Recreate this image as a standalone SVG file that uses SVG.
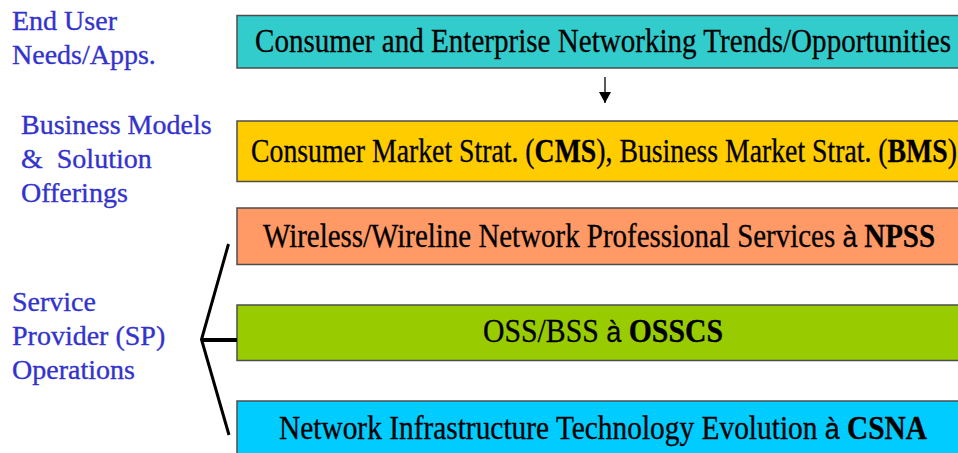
<svg xmlns="http://www.w3.org/2000/svg" width="958" height="453" viewBox="0 0 958 453">
<style>
.lbl{font-family:"Liberation Serif","Times New Roman",serif;font-size:28px;fill:#3333CC;stroke:#3333CC;stroke-width:0.35}
.box{stroke:#4d4d4d;stroke-width:1.5}
.bt{font-family:"Liberation Serif","Times New Roman",serif;font-size:33px;fill:#000;stroke:#000;stroke-width:0.3}
.b{font-weight:bold}
.ar{font-family:"Liberation Sans",Arial,sans-serif;font-size:30px}
.br{stroke:#000;stroke-width:3;fill:none;stroke-linecap:butt}
</style>
<defs>
<marker id="ah" markerWidth="12" markerHeight="12" refX="11" refY="6" orient="auto" markerUnits="userSpaceOnUse">
<path d="M0,0 L11,6 L0,12 Z" fill="#000"/>
</marker>
</defs>
<rect width="958" height="453" fill="#fff"/>
<g id="label-enduser">
<text class="lbl" x="12" y="30">End User</text>
<text class="lbl" x="12" y="64">Needs/Apps.</text>
</g>
<g id="label-business">
<text class="lbl" x="21" y="134">Business Models</text>
<text class="lbl" x="21" y="168">&amp;&#160; Solution</text>
<text class="lbl" x="21" y="202">Offerings</text>
</g>
<g id="label-sp">
<text class="lbl" x="12" y="311">Service</text>
<text class="lbl" x="12" y="345">Provider (SP)</text>
<text class="lbl" x="12" y="379">Operations</text>
</g>
<g id="box-trends">
<rect class="box" x="237" y="15.5" width="730" height="52.5" fill="#33CCCC"/>
<text class="bt" x="255" y="52" textLength="696" lengthAdjust="spacingAndGlyphs">Consumer and Enterprise Networking Trends/Opportunities</text>
</g>
<g id="box-cms">
<rect class="box" x="237" y="121" width="730" height="60.5" fill="#FFCC00"/>
<text class="bt" x="251" y="161.5" textLength="706" lengthAdjust="spacingAndGlyphs">Consumer Market Strat. (<tspan class="b">CMS</tspan>), Business Market Strat. (<tspan class="b">BMS</tspan>)</text>
</g>
<g id="box-npss">
<rect class="box" x="237" y="208" width="730" height="56.5" fill="#FF9966"/>
<text class="bt" x="263" y="246.5" textLength="672" lengthAdjust="spacingAndGlyphs">Wireless/Wireline Network Professional Services <tspan class="ar">à</tspan> <tspan class="b">NPSS</tspan></text>
</g>
<g id="box-osscs">
<rect class="box" x="237" y="305" width="730" height="55.5" fill="#99CC00"/>
<text class="bt" x="483" y="342" textLength="240" lengthAdjust="spacingAndGlyphs">OSS/BSS <tspan class="ar">à</tspan> <tspan class="b">OSSCS</tspan></text>
</g>
<g id="box-csna">
<rect class="box" x="237" y="401" width="730" height="60" fill="#00CCFF"/>
<text class="bt" x="279" y="439" textLength="648" lengthAdjust="spacingAndGlyphs">Network Infrastructure Technology Evolution <tspan class="ar">à</tspan> <tspan class="b">CSNA</tspan></text>
</g>
<g id="connectors">
<line x1="605" y1="77" x2="605" y2="103" stroke="#000" stroke-width="1.3" marker-end="url(#ah)"/>
<polyline class="br" points="228.5,244 201.5,339.5 229,435"/>
<line x1="201.5" y1="340" x2="237" y2="340" stroke="#000" stroke-width="4"/>
</g>
</svg>
